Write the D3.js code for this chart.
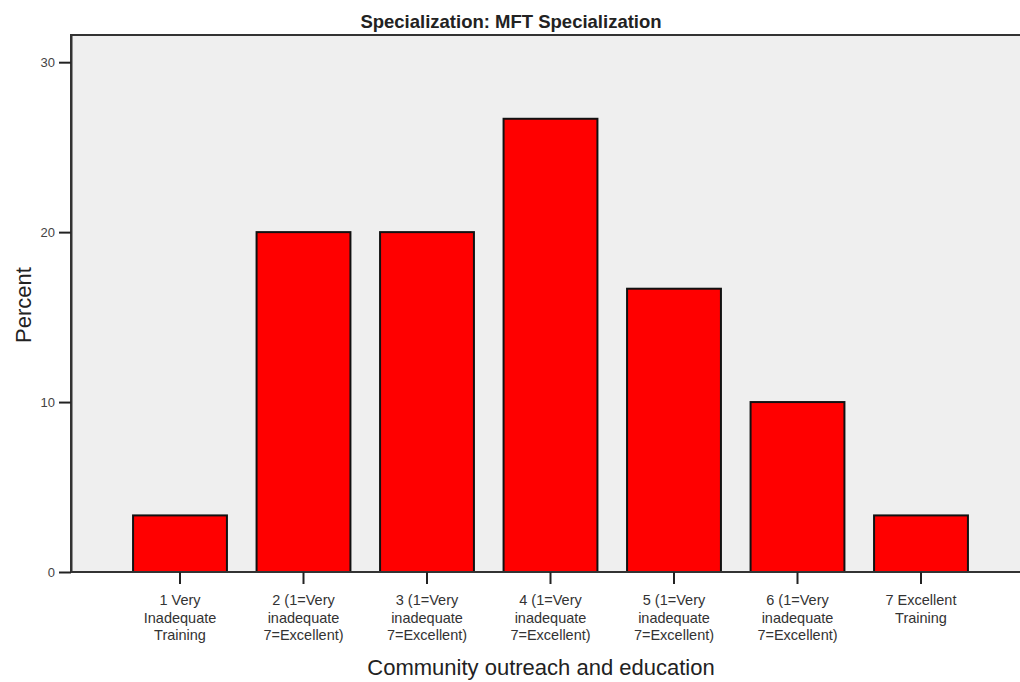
<!DOCTYPE html>
<html><head><meta charset="utf-8">
<script src="https://cdn.jsdelivr.net/npm/d3@7"></script>
<style>body{margin:0;background:#fff}svg{display:block}</style>
</head><body>
<svg id="c" width="1020" height="682"></svg>
<script>
const categories = [
  ["1 Very","Inadequate","Training"],
  ["2 (1=Very","inadequate","7=Excellent)"],
  ["3 (1=Very","inadequate","7=Excellent)"],
  ["4 (1=Very","inadequate","7=Excellent)"],
  ["5 (1=Very","inadequate","7=Excellent)"],
  ["6 (1=Very","inadequate","7=Excellent)"],
  ["7 Excellent","Training"]
];
const values = [3.33, 20, 20, 26.67, 16.67, 10, 3.33];
const yTicks = [0, 10, 20, 30];
const title = "Specialization: MFT Specialization";
const xTitle = "Community outreach and education";
const yTitle = "Percent";

const font = "'Liberation Sans',Arial,sans-serif";
const svg = d3.select("#c");
const L = 71, T = 35, B = 572, R = 1022;
const yMax = 31.6;
const y = d3.scaleLinear().domain([0, yMax]).range([B, T]);
const x = d3.scaleBand().domain(d3.range(categories.length))
  .range([118.25, 982.75]).paddingInner(0.24).paddingOuter(0.12);

svg.append("rect").attr("x", L).attr("y", T).attr("width", R - L).attr("height", B - T)
  .attr("fill", "#efefef").attr("stroke", "#333").attr("stroke-width", 2);

svg.selectAll("rect.bar").data(values).join("rect").attr("class", "bar")
  .attr("x", (d, i) => x(i)).attr("width", x.bandwidth())
  .attr("y", d => y(d)).attr("height", d => B - y(d))
  .attr("fill", "#ff0000").attr("stroke", "#111").attr("stroke-width", 2);

const ya = svg.append("g").attr("transform", `translate(${L},0)`)
  .call(d3.axisLeft(y).tickValues(yTicks).tickSizeInner(12).tickSizeOuter(0).tickPadding(4));
ya.select(".domain").attr("stroke", "#333").attr("stroke-width", 2);
ya.selectAll(".tick line").attr("stroke", "#222").attr("stroke-width", 2);
ya.selectAll(".tick text").attr("font-family", font).attr("font-size", 13).attr("fill", "#444");

const xa = svg.append("g").attr("transform", `translate(0,${B})`)
  .call(d3.axisBottom(x).tickSizeInner(12).tickSizeOuter(0).tickFormat(""));
xa.select(".domain").attr("d", `M${L},0H${R}`).attr("stroke", "#333").attr("stroke-width", 2);
xa.selectAll(".tick line").attr("stroke", "#222").attr("stroke-width", 2);
xa.selectAll(".tick").each(function(d) {
  const t = d3.select(this).append("text").attr("font-family", font).attr("font-size", 14.5)
    .attr("fill", "#333").attr("text-anchor", "middle");
  categories[d].forEach((ln, k) => t.append("tspan").attr("x", 0).attr("y", 33 + k * 17.5).text(ln));
});

svg.append("text").attr("x", 511).attr("y", 28).attr("text-anchor", "middle")
  .attr("font-family", font).attr("font-size", 18.5).attr("font-weight", "bold").attr("fill", "#222").text(title);
svg.append("text").attr("x", 541).attr("y", 675).attr("text-anchor", "middle")
  .attr("font-family", font).attr("font-size", 22).attr("fill", "#222").text(xTitle);
svg.append("text").attr("transform", "translate(31,305) rotate(-90)").attr("text-anchor", "middle")
  .attr("font-family", font).attr("font-size", 22).attr("fill", "#222").text(yTitle);
</script>
</body></html>
